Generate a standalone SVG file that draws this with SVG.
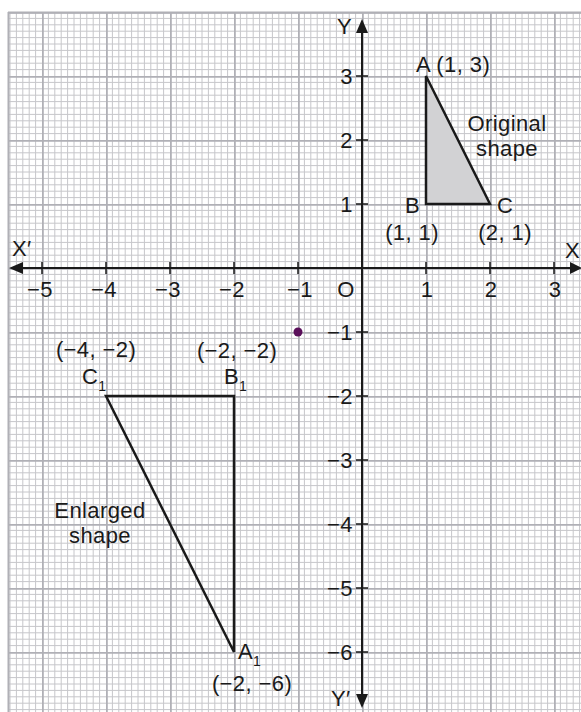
<svg xmlns="http://www.w3.org/2000/svg" width="581" height="712" viewBox="0 0 581 712">
<style>
text{font-family:"Liberation Sans",Arial,sans-serif;font-size:22px;letter-spacing:0.4px;fill:#1a1a1a}
.ax{stroke:#1a1a1a;stroke-width:2;fill:none}
.tk{stroke:#1a1a1a;stroke-width:1.5}
.tri{stroke:#1a1a1a;stroke-width:2.5;stroke-linejoin:miter}
.xl{text-anchor:middle}
.yl{text-anchor:end}
.num{font-size:21px}
.sub{font-size:14px}
</style>
<defs>
<pattern id="grid" patternUnits="userSpaceOnUse" x="42" y="12" width="64" height="64">
<g stroke="#c6c6ca" stroke-width="1">
<path d="M6.4 0V64M12.8 0V64M19.2 0V64M25.6 0V64M32 0V64M38.4 0V64M44.8 0V64M51.2 0V64M57.6 0V64"/>
<path d="M0 6.4H64M0 12.8H64M0 19.2H64M0 25.6H64M0 32H64M0 38.4H64M0 44.8H64M0 51.2H64M0 57.6H64"/>
</g>
<path d="M0.9 0V64M0 0.9H64" stroke="#b0b0b6" stroke-width="1.8"/>
</pattern>
</defs>
<rect width="581" height="712" fill="#fff"/>
<g id="grid-paper">
<rect x="8" y="12" width="573" height="700" fill="url(#grid)"/>
<path d="M8.5 12V712M8 12.5H581" stroke="#b0b0b6" stroke-width="2"/>
</g>
<g id="axes">
<line class="ax" x1="20" y1="268" x2="575" y2="268"/>
<polygon points="9,268 23,262 23,274" fill="#1a1a1a"/>
<polygon points="582,268 570,262 570,274" fill="#1a1a1a"/>
<line class="ax" x1="362" y1="30" x2="362" y2="698"/>
<polygon points="362,19 356,33 368,33" fill="#1a1a1a"/>
<polygon points="362,708 356,694 368,694" fill="#1a1a1a"/>
<g class="tk">
<path d="M42 262V274M106 262V274M170 262V274M234 262V274M298 262V274M426 262V274M490 262V274M554 262V274"/>
<path d="M356 76H368M356 140H368M356 204H368M356 332H368M356 396H368M356 460H368M356 524H368M356 588H368M356 652H368"/>
</g>
<text x="12" y="256">X′</text>
<text x="565" y="258">X</text>
<text x="337" y="34">Y</text>
<text x="331" y="706">Y′</text>
<g class="xl num">
<text x="40" y="297">−5</text>
<text x="104" y="297">−4</text>
<text x="168" y="297">−3</text>
<text x="232" y="297">−2</text>
<text x="300" y="297">−1</text>
<text x="346" y="297">O</text>
<text x="427" y="297">1</text>
<text x="491" y="297">2</text>
<text x="555" y="297">3</text>
</g>
<g class="yl num">
<text x="353" y="84">3</text>
<text x="353" y="148">2</text>
<text x="353" y="212">1</text>
<text x="353" y="340">−1</text>
<text x="353" y="404">−2</text>
<text x="353" y="468">−3</text>
<text x="353" y="532">−4</text>
<text x="353" y="596">−5</text>
<text x="353" y="660">−6</text>
</g>
</g>
<g id="original-shape">
<polygon class="tri" points="426,76 426,204 490,204" fill="#d2d2d4"/>
<text x="416" y="72">A (1, 3)</text>
<text x="507" y="131" class="xl">Original</text>
<text x="507" y="156" class="xl">shape</text>
<text x="405" y="213">B</text>
<text x="497" y="213">C</text>
<text x="412" y="240" class="xl">(1, 1)</text>
<text x="505" y="240" class="xl">(2, 1)</text>
</g>
<g id="enlarged-shape">
<polygon class="tri" points="106,396 234,396 234,652" fill="none"/>
<text x="96" y="357" class="xl">(−4, −2)</text>
<text x="237" y="358" class="xl">(−2, −2)</text>
<text x="82" y="384">C<tspan class="sub" dy="7">1</tspan></text>
<text x="224" y="384">B<tspan class="sub" dy="7">1</tspan></text>
<text x="238" y="659">A<tspan class="sub" dy="7">1</tspan></text>
<text x="252" y="691" class="xl">(−2, −6)</text>
<text x="100" y="518" class="xl">Enlarged</text>
<text x="100" y="543" class="xl">shape</text>
</g>
<g id="centre">
<circle cx="298" cy="332" r="4.5" fill="#5a0f5a"/>
</g>
</svg>
